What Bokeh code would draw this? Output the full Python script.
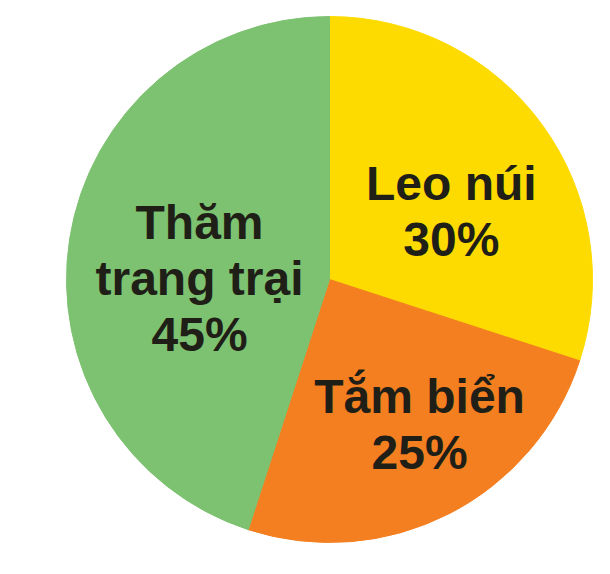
import math
from bokeh.plotting import figure
from bokeh.models import Range1d, ColumnDataSource
from bokeh.core.properties import value
from bokeh.embed import file_html
from bokeh.resources import INLINE

# ---- data ----
labels = ["Leo núi", "Tắm biển", "Thăm\ntrang trại"]
percents = [30, 25, 45]
colors = ["#FDDB00", "#F47F20", "#7DC271"]

# ---- layout ----
W, H = 594, 558
cx, cy, R = 329, 295, 263
label_r = [140, 170, 130]
label_nudge = [-6.5, 5.0, 8.0]   # degrees relative to slice middle
font_px = 48
line_h = 56
cap_h = 34.5
baseline_fix = 16

p = figure(width=W, height=H, output_backend="svg", toolbar_location=None,
           x_range=Range1d(0, W), y_range=Range1d(574 - H, 574),
           min_border=0)
p.axis.visible = False
p.grid.visible = False
p.outline_line_color = None
p.background_fill_color = "white"
p.border_fill_color = "white"

total = sum(percents)
starts, ends, mids = [], [], []
a = 90.0
for v in percents:
    span = 360.0 * v / total
    e = a
    s = a - span
    starts.append(math.radians(s))
    ends.append(math.radians(e))
    mids.append((s + e) / 2)
    a = s

src = ColumnDataSource(dict(start=starts, end=ends, color=colors))
p.wedge(x=cx, y=cy, radius=R, radius_units="data", start_angle="start", end_angle="end",
        fill_color="color", line_color="color", line_width=1, source=src)

tx, ty, tt = [], [], []
for lab, v, m, r, nd in zip(labels, percents, mids, label_r, label_nudge):
    lines = lab.split("\n") + [f"{v}%"]
    ang = math.radians(m + nd)
    bx = cx + r * math.cos(ang)
    by = cy + r * math.sin(ang)
    n = len(lines)
    block = (n - 1) * line_h + cap_h
    first = by + block / 2 - cap_h + baseline_fix
    for i, ln in enumerate(lines):
        tx.append(bx)
        ty.append(first - i * line_h)
        tt.append(ln)

p.text(x=tx, y=ty, text=tt, text_font=value("Liberation Sans"), text_font_style="bold",
       text_font_size=f"{font_px}px", text_color="#1f1f17", text_align="center",
       text_baseline="alphabetic")

open("out.html", "w").write(file_html(p, INLINE))
